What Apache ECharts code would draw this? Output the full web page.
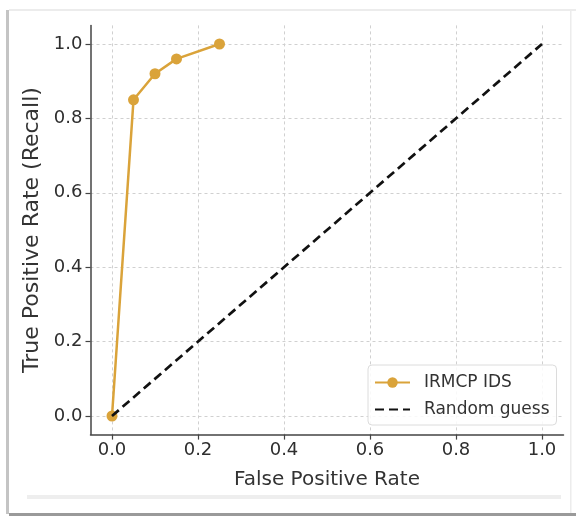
<!DOCTYPE html>
<html>
<head>
<meta charset="utf-8">
<script src="https://cdn.jsdelivr.net/npm/echarts@6/dist/echarts.min.js"></script>
<style>
html,body{margin:0;padding:0;background:#fff;}
#chart{width:576px;height:518px;}
</style>
</head>
<body>
<div id="chart"></div>
<script>
const fprValues = [0.0, 0.05, 0.10, 0.15, 0.25];
const tprValues = [0.0, 0.85, 0.92, 0.96, 1.0];
const randomX = [0.0, 1.0];
const randomY = [0.0, 1.0];
const tickValues = [0.0, 0.2, 0.4, 0.6, 0.8, 1.0];
const seriesNames = ['IRMCP IDS', 'Random guess'];
const xAxisTitle = 'False Positive Rate';
const yAxisTitle = 'True Positive Rate (Recall)';

const font = 'DejaVu Sans';
const chart = echarts.init(document.getElementById('chart'), null, {renderer: 'canvas'});
const axisCommon = {
  type: 'value', min: -0.05, max: 1.05,
  axisLine: {show: true, onZero: false, lineStyle: {color: '#444', width: 1.5}},
  axisTick: {show: true, inside: false, length: 5, customValues: tickValues, lineStyle: {color: '#444', width: 1.2}},
  splitLine: {show: true, lineStyle: {color: '#d0d0d0', width: 1, type: [3, 3]}},
  nameLocation: 'middle',
  nameTextStyle: {fontFamily: font, fontSize: 20, color: '#333'},
  axisLabel: {fontFamily: font, fontSize: 18, color: '#2e2e2e', customValues: tickValues,
    formatter: v => v.toFixed(1)}
};
chart.setOption({
  backgroundColor: '#fff',
  animation: false,
  grid: {left: 90.5, top: 25.4, width: 473, height: 409.2, containLabel: false},
  xAxis: Object.assign({}, axisCommon, {name: xAxisTitle, nameGap: 35,
    axisLabel: Object.assign({}, axisCommon.axisLabel, {margin: 7})}),
  yAxis: Object.assign({}, axisCommon, {name: yAxisTitle, nameGap: 42,
    nameTextStyle: {fontFamily: font, fontSize: 22, color: '#333'},
    axisLabel: Object.assign({}, axisCommon.axisLabel, {margin: 8})}),
  legend: {
    orient: 'vertical', left: 368, top: 365,
    padding: [9, 7, 7, 6], itemGap: 10, itemWidth: 35, itemHeight: 13,
    backgroundColor: 'rgba(255,255,255,0.85)', borderColor: '#dcdcdc', borderWidth: 1, borderRadius: 4,
    textStyle: {fontFamily: font, fontSize: 17, color: '#333', padding: [0, 0, 0, 9]},
    data: [
      {name: seriesNames[0]},
      {name: seriesNames[1], itemStyle: {color: 'rgba(0,0,0,0)', borderWidth: 0}}
    ]
  },
  series: [
    {name: seriesNames[0], type: 'line', data: fprValues.map((x, i) => [x, tprValues[i]]),
      symbol: 'circle', symbolSize: 11, showSymbol: true,
      lineStyle: {color: '#daa33a', width: 2.5}, itemStyle: {color: '#daa33a'}, z: 3},
    {name: seriesNames[1], type: 'line', data: randomX.map((x, i) => [x, randomY[i]]),
      symbol: 'none', lineStyle: {color: '#111', width: 2.7, type: [9, 5]}, itemStyle: {color: '#111'}, z: 4}
  ],
  graphic: [
    {type: 'rect', shape: {x: 6, y: 10, width: 3, height: 504}, style: {fill: '#c4c4c4'}, silent: true},
    {type: 'rect', shape: {x: 9, y: 9, width: 567, height: 2}, style: {fill: '#ececec'}, silent: true},
    {type: 'rect', shape: {x: 9, y: 513, width: 567, height: 3}, style: {fill: '#9a9a9a'}, silent: true},
    {type: 'rect', shape: {x: 570, y: 11, width: 1.5, height: 502}, style: {fill: '#ececec'}, silent: true},
    {type: 'rect', shape: {x: 27, y: 495, width: 534, height: 4}, style: {fill: '#eeeeee'}, silent: true}
  ]
});
</script>
</body>
</html>
